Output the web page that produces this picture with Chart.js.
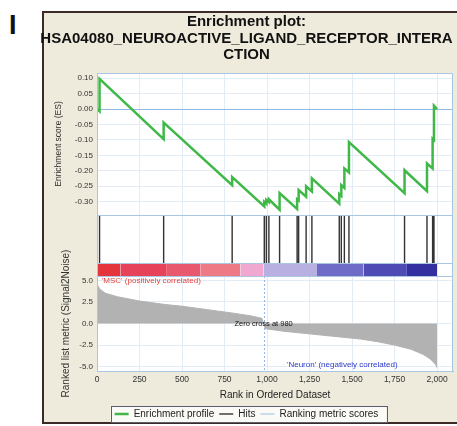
<!DOCTYPE html>
<html>
<head>
<meta charset="utf-8">
<script src="https://cdn.jsdelivr.net/npm/chart.js@4.4.1/dist/chart.umd.min.js"></script>
<style>
  html, body { margin: 0; padding: 0; background: #fff; overflow: hidden; width: 457px; height: 426px; }
  #panel-label { position: absolute; left: 9px; top: 10px; font: bold 27px 'Liberation Sans', Arial, sans-serif; color: #111; }
  #frame { position: absolute; left: 42px; top: 11px; width: 440px; height: 409px; background: #eeebdc; border: 2px solid #3b2a28; }
  #wrap { position: absolute; left: 40px; top: 8px; }
</style>
</head>
<body>
<div id="panel-label">I</div>
<div id="frame"></div>
<div id="wrap"><canvas id="chart" width="417" height="416"></canvas></div>
<script>
// ── Data ──────────────────────────────────────────────────────────────────────
const hitRanks = [15, 392, 795, 984, 996, 1011, 1074, 1177, 1186, 1230, 1264,
                  1425, 1437, 1455, 1482, 1809, 1941, 1974, 1982]

// running enrichment score, vertices
const esRanks  = [0, 15, 15, 392, 392, 795, 795, 984, 984, 996, 996, 1011, 1011,
                  1074, 1074, 1177, 1177, 1186, 1186, 1230, 1230, 1264, 1264,
                  1425, 1425, 1437, 1437, 1455, 1455, 1482, 1482, 1809, 1809,
                  1941, 1941, 1974, 1974, 1982, 1982, 2000]
const esScores = [0, -0.007, 0.098, -0.097, -0.044, -0.246, -0.220, -0.315, -0.300,
                  -0.306, -0.294, -0.301, -0.292, -0.326, -0.272, -0.323, -0.292,
                  -0.296, -0.262, -0.284, -0.250, -0.267, -0.224, -0.306, -0.275,
                  -0.281, -0.246, -0.255, -0.192, -0.205, -0.107, -0.272, -0.198,
                  -0.266, -0.176, -0.192, -0.096, -0.100, 0.011, 0]

// ranked list metric (signal2noise)
const metricRanks  = [0, 15, 50, 120, 250, 400, 500, 650, 800, 900, 970, 980, 990,
                      1100, 1250, 1400, 1550, 1650, 1750, 1850, 1920, 1960, 1990, 2000]
const metricScores = [4.6, 4.0, 3.5, 3.1, 2.6, 2.2, 2.0, 1.6, 1.2, 0.9, 0.6, 0, -0.6,
                      -0.9, -1.2, -1.5, -1.8, -2.1, -2.5, -3.0, -3.6, -4.1, -4.7, -5.1]
const zeroCross = 980

// heat bar under the hits
const barStops  = [0, 137, 411, 607, 843, 980, 1294, 1568, 1823, 2000]
const barColors = ['#e4343c', '#e6425a', '#e8586e', '#ee7a86', '#f0a8d0',
                   '#b8b0e0', '#6e6cc6', '#4e4cb4', '#3430a0']

const rankTicks   = [0, 250, 500, 750, 1000, 1250, 1500, 1750, 2000]
const esTicks     = [0.10, 0.05, 0, -0.05, -0.10, -0.15, -0.20, -0.25, -0.30]
const metricTicks = [5, 2.5, 0, -2.5, -5]

const titleLines = ['Enrichment plot:', 'HSA04080_NEUROACTIVE_LIGAND_RECEPTOR_INTERA', 'CTION']
const posLabel = "'MSC' (positively correlated)"
const negLabel = "'Neuron' (negatively correlated)"

// ── Style ─────────────────────────────────────────────────────────────────────
const FONT      = "'Liberation Sans', Arial, sans-serif"
const GRID      = '#e3ecf5'
const EDGE      = '#a9c6e4'
const ZERO_LINE = '#8fb9e2'

Chart.defaults.font.family = FONT
Chart.defaults.animation = false

const setTicks = arr => scale => { scale.ticks = arr.map(v => ({ value: v })) }
const fixW = scale => { scale.width = 57 }

// ── Plugin: backgrounds, panel frames, annotations ───────────────────────────
const gseaPlugin = {
  id: 'gsea',
  beforeDraw(chart) {
    const { ctx, chartArea: a, legend } = chart
    ctx.save()
    ctx.fillStyle = '#fff'
    ctx.fillRect(a.left, a.top, a.width, a.height)
    // legend box
    const hb = legend.legendHitBoxes
    if (hb && hb.length) {
      const l = Math.min(...hb.map(h => h.left)) - 4
      const r = Math.max(...hb.map(h => h.left + h.width)) + 8
      const t = Math.min(...hb.map(h => h.top)) - 3
      const b = Math.max(...hb.map(h => h.top + h.height)) + 3
      ctx.fillStyle = '#fbfaf6'
      ctx.fillRect(l, t, r - l, b - t)
      ctx.strokeStyle = '#5a5f70'
      ctx.lineWidth = 1
      ctx.strokeRect(Math.round(l) + 0.5, Math.round(t) + 0.5, Math.round(r - l), Math.round(b - t))
    }
    ctx.restore()
  },
  afterDatasetsDraw(chart) {
    const { ctx, scales } = chart
    const xs = scales.x, ym = scales.yMetric
    const zx = xs.getPixelForValue(zeroCross)
    ctx.save()
    ctx.strokeStyle = ZERO_LINE
    ctx.setLineDash([2, 2])
    ctx.lineWidth = 1
    ctx.beginPath()
    ctx.moveTo(Math.round(zx) + 0.5, ym.top)
    ctx.lineTo(Math.round(zx) + 0.5, ym.bottom)
    ctx.stroke()
    ctx.setLineDash([])

    ctx.font = `7.5px ${FONT}`
    ctx.fillStyle = '#111'
    ctx.textAlign = 'center'
    ctx.textBaseline = 'middle'
    ctx.fillText(`Zero cross at ${zeroCross}`, zx, ym.getPixelForValue(0))

    ctx.font = `8px ${FONT}`
    ctx.textAlign = 'left'
    ctx.textBaseline = 'top'
    ctx.fillStyle = '#e8403c'
    ctx.fillText(posLabel, xs.getPixelForValue(28), ym.top + 1)

    ctx.textAlign = 'right'
    ctx.textBaseline = 'middle'
    ctx.fillStyle = '#2a3ccc'
    ctx.fillText(negLabel, xs.getPixelForValue(1768), ym.bottom - 6)
    ctx.restore()
  },
  afterDraw(chart) {
    const { ctx, chartArea: a, scales } = chart
    ctx.save()
    ctx.strokeStyle = EDGE
    ctx.lineWidth = 1
    for (const id of ['yES', 'yHits', 'yBar', 'yMetric']) {
      const s = scales[id]
      ctx.strokeRect(Math.round(a.left) + 0.5, Math.round(s.top) + 0.5,
                     Math.round(a.width) - 1, Math.round(s.height))
    }
    ctx.restore()
  },
}

// ── Datasets ──────────────────────────────────────────────────────────────────
const datasets = [
  {
    label: 'Enrichment profile',
    data: esRanks.map((r, i) => ({ x: r, y: esScores[i] })),
    yAxisID: 'yES',
    borderColor: '#3fb848',
    borderWidth: 2.5,
    fill: false,
  },
  {
    label: 'Hits',
    data: hitRanks.flatMap(r => [{ x: r, y: 0 }, { x: r, y: 1 }, { x: r, y: null }]),
    yAxisID: 'yHits',
    borderColor: '#333',
    borderWidth: 1.4,
    spanGaps: false,
    fill: false,
  },
  {
    label: 'Ranking metric scores',
    data: metricRanks.map((r, i) => ({ x: r, y: metricScores[i] })),
    yAxisID: 'yMetric',
    borderColor: '#b2b2b2',
    backgroundColor: '#b2b2b2',
    borderWidth: 1,
    fill: 'origin',
  },
  ...barColors.map((c, i) => ({
    label: 'bar',
    data: [{ x: barStops[i], y: 1 }, { x: barStops[i + 1], y: 1 }],
    yAxisID: 'yBar',
    borderColor: c,
    backgroundColor: c,
    borderWidth: 1,
    fill: 'origin',
  })),
]

// ── Chart ─────────────────────────────────────────────────────────────────────
new Chart(document.getElementById('chart'), {
  type: 'line',
  data: { datasets },
  plugins: [gseaPlugin],
  options: {
    responsive: false,
    layout: { padding: { left: 0, right: 4, top: 0, bottom: 0 } },
    elements: { point: { radius: 0 }, line: { tension: 0 } },
    plugins: {
      title: {
        display: true,
        text: titleLines,
        color: '#111',
        font: { size: 15, weight: 'bold', lineHeight: 1.1 },
        padding: { top: 6, bottom: 9.5 },
      },
      legend: {
        position: 'bottom',
        maxHeight: 20,
        labels: {
          usePointStyle: true,
          pointStyle: 'line',
          pointStyleWidth: 14,
          boxHeight: 8,
          padding: 5,
          color: '#222',
          font: { size: 10 },
          generateLabels: chart => Chart.defaults.plugins.legend.labels.generateLabels(chart)
            .filter(l => l.datasetIndex < 3)
            .map(l => l.datasetIndex === 2 ? { ...l, strokeStyle: '#b9d3ec', lineWidth: 1.5 } : l),
        },
      },
      tooltip: { enabled: false },
    },
    scales: {
      x: {
        type: 'linear', position: 'bottom', min: 0, max: 2094,
        afterBuildTicks: setTicks(rankTicks),
        ticks: { color: '#333', font: { size: 8.5 }, padding: 4, maxRotation: 0, autoSkip: false },
        grid: { color: GRID, drawTicks: false },
        border: { color: EDGE },
        title: { display: true, text: 'Rank in Ordered Dataset', color: '#222', font: { size: 10 },
                 padding: { top: 2, bottom: 3 } },
        afterFit: scale => { scale.height = 33 },
      },
      yES: {
        type: 'linear', position: 'left', stack: 'gsea', stackWeight: 142, weight: 4,
        min: -0.343, max: 0.117,
        afterBuildTicks: setTicks(esTicks),
        ticks: { color: '#333', font: { size: 8 }, padding: 4, autoSkip: false,
                 callback: v => (Math.abs(v) < 1e-9 ? 0 : v).toFixed(2) },
        grid: { color: c => Math.abs(c.tick.value) < 1e-9 ? ZERO_LINE : GRID, drawTicks: false },
        border: { color: EDGE },
        title: { display: true, text: 'Enrichment score (ES)', color: '#333', font: { size: 8.5 },
                 padding: { top: 14, bottom: 0 } },
        afterFit: fixW,
      },
      yHits: {
        type: 'linear', position: 'left', stack: 'gsea', stackWeight: 48, weight: 3,
        min: 0, max: 1,
        ticks: { display: false },
        grid: { display: false },
        border: { display: false },
        afterFit: fixW,
      },
      yBar: {
        type: 'linear', position: 'left', stack: 'gsea', stackWeight: 13, weight: 2,
        min: 0, max: 1,
        ticks: { display: false },
        grid: { display: false },
        border: { display: false },
        afterFit: fixW,
      },
      yMetric: {
        type: 'linear', position: 'left', stack: 'gsea', stackWeight: 95, weight: 1,
        min: -5.5, max: 5.5,
        afterBuildTicks: setTicks(metricTicks),
        ticks: { color: '#333', font: { size: 8 }, padding: 4, autoSkip: false,
                 callback: v => v.toFixed(1) },
        grid: { color: GRID, drawTicks: false },
        border: { color: EDGE },
        title: { display: true, text: 'Ranked list metric (Signal2Noise)', color: '#333', font: { size: 10 },
                 padding: { top: 20, bottom: 0 } },
        afterFit: fixW,
      },
    },
  },
})
</script>
</body>
</html>
